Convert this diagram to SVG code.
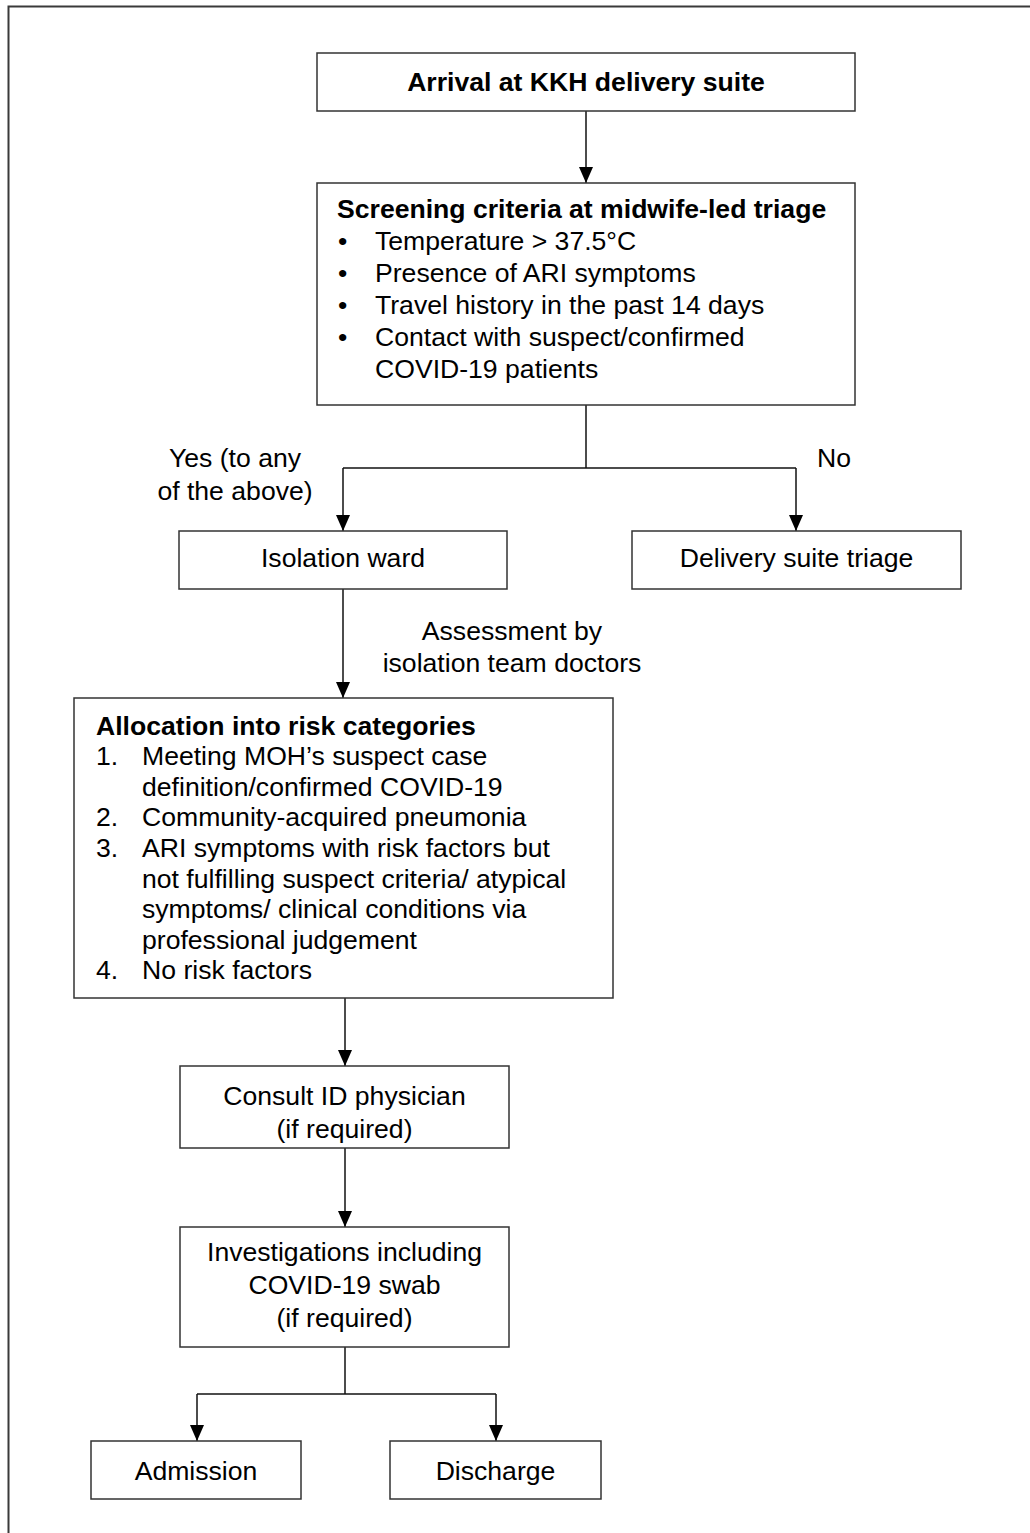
<svg xmlns="http://www.w3.org/2000/svg" width="1030" height="1533" viewBox="0 0 1030 1533">
<defs>
<marker id="ah" viewBox="0 0 16 14" refX="16" refY="7" markerWidth="16" markerHeight="14" markerUnits="userSpaceOnUse" orient="auto">
<path d="M0 0 L16 7 L0 14 Z" fill="#000"/>
</marker>
<style>
.box{fill:#fff;stroke:#333;stroke-width:1.5}
.t{font-family:"Liberation Sans",Arial,sans-serif;font-size:26.6px;fill:#000}
.b{font-weight:bold}
.c{text-anchor:middle}
.con path{fill:none;stroke:#111;stroke-width:1.5}
</style>
</defs>
<rect x="0" y="0" width="1030" height="1533" fill="#fff"/>
<rect x="8.5" y="6.5" width="1200" height="1700" fill="none" stroke="#3a3a3a" stroke-width="2"/>

<g id="connectors" class="con">
<path d="M586 111 V183" marker-end="url(#ah)"/>
<path d="M586 405 V468"/>
<path d="M343 468 H796"/>
<path d="M343 468 V531" marker-end="url(#ah)"/>
<path d="M796 468 V531" marker-end="url(#ah)"/>
<path d="M343 589 V698" marker-end="url(#ah)"/>
<path d="M345 998 V1066" marker-end="url(#ah)"/>
<path d="M345 1148 V1227" marker-end="url(#ah)"/>
<path d="M345 1347 V1394"/>
<path d="M197 1394 H496"/>
<path d="M197 1394 V1441" marker-end="url(#ah)"/>
<path d="M496 1394 V1441" marker-end="url(#ah)"/>
</g>

<g id="labels">
<text class="t c" x="235" y="466.5">Yes (to any</text>
<text class="t c" x="235" y="499.5">of the above)</text>
<text class="t c" x="834" y="466.5">No</text>
<text class="t c" x="512" y="639.5">Assessment by</text>
<text class="t c" x="512" y="671.5">isolation team doctors</text>
</g>

<g id="arrival">
<rect class="box" x="317" y="53" width="538" height="58"/>
<text class="t b c" x="586" y="91">Arrival at KKH delivery suite</text>
</g>

<g id="screening">
<rect class="box" x="317" y="183" width="538" height="222"/>
<text class="t b" x="337" y="217.5">Screening criteria at midwife-led triage</text>
<text class="t" x="338" y="249.5">•</text>
<text class="t" x="375" y="249.5">Temperature &gt; 37.5°C</text>
<text class="t" x="338" y="281.5">•</text>
<text class="t" x="375" y="281.5">Presence of ARI symptoms</text>
<text class="t" x="338" y="313.5">•</text>
<text class="t" x="375" y="313.5">Travel history in the past 14 days</text>
<text class="t" x="338" y="345.5">•</text>
<text class="t" x="375" y="345.5">Contact with suspect/confirmed</text>
<text class="t" x="375" y="377.5">COVID-19 patients</text>
</g>

<g id="isolation">
<rect class="box" x="179" y="531" width="328" height="58"/>
<text class="t c" x="343" y="567">Isolation ward</text>
</g>

<g id="delivery">
<rect class="box" x="632" y="531" width="329" height="58"/>
<text class="t c" x="796.5" y="567">Delivery suite triage</text>
</g>

<g id="allocation">
<rect class="box" x="74" y="698" width="539" height="300"/>
<text class="t b" x="96" y="734.5">Allocation into risk categories</text>
<text class="t" x="96" y="765.1">1.</text>
<text class="t" x="142" y="765.1">Meeting MOH’s suspect case</text>
<text class="t" x="142" y="795.7">definition/confirmed COVID-19</text>
<text class="t" x="96" y="826.3">2.</text>
<text class="t" x="142" y="826.3">Community-acquired pneumonia</text>
<text class="t" x="96" y="856.9">3.</text>
<text class="t" x="142" y="856.9">ARI symptoms with risk factors but</text>
<text class="t" x="142" y="887.5">not fulfilling suspect criteria/ atypical</text>
<text class="t" x="142" y="918.1">symptoms/ clinical conditions via</text>
<text class="t" x="142" y="948.7">professional judgement</text>
<text class="t" x="96" y="979.3">4.</text>
<text class="t" x="142" y="979.3">No risk factors</text>
</g>

<g id="consult">
<rect class="box" x="180" y="1066" width="329" height="82"/>
<text class="t c" x="344.5" y="1104.5">Consult ID physician</text>
<text class="t c" x="344.5" y="1137.5">(if required)</text>
</g>

<g id="investigations">
<rect class="box" x="180" y="1227" width="329" height="120"/>
<text class="t c" x="344.5" y="1261">Investigations including</text>
<text class="t c" x="344.5" y="1294">COVID-19 swab</text>
<text class="t c" x="344.5" y="1327">(if required)</text>
</g>

<g id="admission">
<rect class="box" x="91" y="1441" width="210" height="58"/>
<text class="t c" x="196" y="1479.5">Admission</text>
</g>

<g id="discharge">
<rect class="box" x="390" y="1441" width="211" height="58"/>
<text class="t c" x="495.5" y="1479.5">Discharge</text>
</g>
</svg>
